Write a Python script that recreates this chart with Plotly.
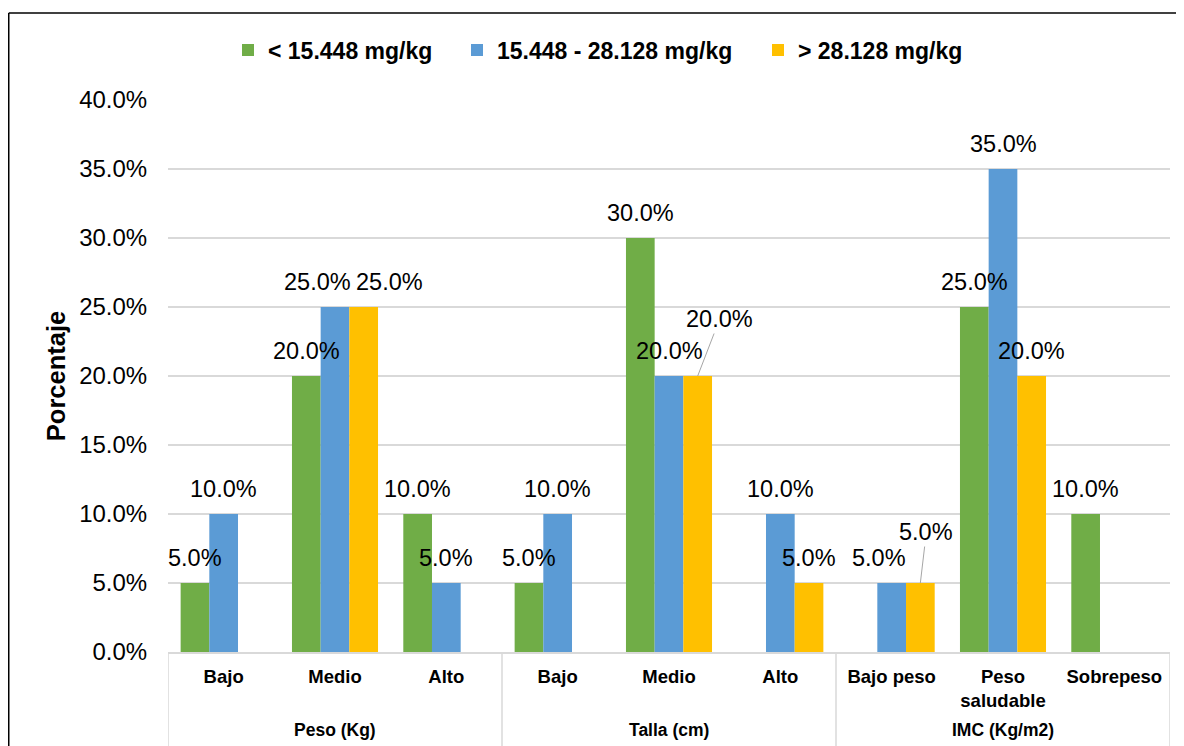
import plotly.graph_objects as go

# ---------------- data ----------------
groups = ["Peso (Kg)"] * 3 + ["Talla (cm)"] * 3 + ["IMC (Kg/m2)"] * 3
subcats = ["Bajo", "Medio", "Alto", "Bajo", "Medio", "Alto",
           "Bajo peso", "Peso<br>saludable", "Sobrepeso"]
series_names = ["< 15.448 mg/kg", "15.448 - 28.128 mg/kg", "> 28.128 mg/kg"]
low_values = [0.05, 0.20, 0.10, 0.05, 0.30, 0.00, 0.00, 0.25, 0.10]
mid_values = [0.10, 0.25, 0.05, 0.10, 0.20, 0.10, 0.05, 0.35, 0.00]
high_values = [0.00, 0.25, 0.00, 0.00, 0.20, 0.05, 0.05, 0.20, 0.00]
y_title = "Porcentaje"

# ---------------- style ----------------
colors = ["#70AD47", "#5B9BD5", "#FFC000"]
FONT = "Liberation Sans, Arial, Helvetica, sans-serif"
GRID = "#D9D9D9"
BARGAP = 0.227
W, H = 1176, 738
ML, MR, MT, MB = 160, 14, 92, 94
PW, PH = W - ML - MR, H - MT - MB

# label nudges (pixels) for labels that Excel moved to avoid overlaps
label_nudge = {(1, 1): dict(dx=-18), (2, 1): dict(dx=26), (1, 6): dict(dx=-13)}
label_leader = {(2, 4): dict(ax=22, ay=-57), (2, 6): dict(ax=6, ay=-51)}
legend_left_px = [220, 449, 750]   # left edge of each legend entry (figure px)

cat_keys = [f"{g} | {s}" for g, s in zip(groups, subcats)]

fig = go.Figure()
all_series = [low_values, mid_values, high_values]
for idx, (name, vals, col) in enumerate(zip(series_names, all_series, colors)):
    fig.add_trace(go.Bar(
        x=cat_keys, y=vals, name=name,
        marker=dict(color=col, line=dict(width=0)),
        hoverinfo="skip",
        legend="legend" if idx == 0 else f"legend{idx + 1}",
    ))

# data labels
w = (1 - BARGAP) / 3
for i, vals in enumerate(all_series):
    for k, v in enumerate(vals):
        if v <= 0:
            continue
        xpos = k + (i - 1) * w
        txt = f"{v * 100:.1f}%"
        lab_font = dict(family=FONT, size=23.5, color="black")
        if (i, k) in label_leader:
            lead = label_leader[(i, k)]
            fig.add_annotation(
                x=xpos, y=v, text=txt, showarrow=True,
                ax=lead["ax"], ay=lead["ay"], axref="pixel", ayref="pixel",
                arrowhead=0, arrowwidth=1, arrowcolor="#A6A6A6",
                standoff=0, startstandoff=0, font=lab_font,
            )
        else:
            nd = label_nudge.get((i, k), {})
            fig.add_annotation(
                x=xpos, y=v, text=txt, showarrow=False,
                xshift=nd.get("dx", 0), yshift=25 + nd.get("dy", 0),
                xanchor="center", yanchor="middle", font=lab_font,
            )

# group labels and dividers of the two-level category axis
group_order = []
for g in groups:
    if g not in group_order:
        group_order.append(g)
start = 0
boundaries = [-0.5]
for g in group_order:
    n = groups.count(g)
    mid = start + (n - 1) / 2
    fig.add_annotation(
        x=mid, y=0, xref="x", yref="paper", yshift=-78,
        text=f"<b>{g}</b>", showarrow=False, xanchor="center", yanchor="middle",
        font=dict(family=FONT, size=17.5, color="black"),
    )
    start += n
    boundaries.append(start - 0.5)
for b in boundaries:
    fig.add_shape(type="line", xref="x", yref="paper", x0=b, x1=b,
                  y0=0, y1=-1.0, line=dict(color=GRID, width=1.5), layer="below")

# chart border (Excel chart area outline): left and top edges visible
bx = (0.75 - ML) / PW
by = (PH + MT - 5) / PH
fig.add_shape(type="line", xref="paper", yref="paper", x0=bx, x1=bx, y0=-0.5, y1=by,
              line=dict(color="black", width=1.5), layer="above")
fig.add_shape(type="line", xref="paper", yref="paper", x0=bx, x1=1.2, y0=by, y1=by,
              line=dict(color="black", width=1.5), layer="above")

leg_common = dict(
    orientation="h", xref="container", yref="container",
    xanchor="left", y=1 - 42 / H, yanchor="middle",
    font=dict(family=FONT, size=23, color="black", weight="bold"),
    bgcolor="rgba(0,0,0,0)",
)

fig.update_layout(
    width=W, height=H,
    margin=dict(l=ML, r=MR, t=MT, b=MB),
    paper_bgcolor="white", plot_bgcolor="white",
    barmode="group", bargap=BARGAP, bargroupgap=0,
    font=dict(family=FONT, color="black"),
    showlegend=True,
    legend=dict(x=legend_left_px[0] / W, **leg_common),
    legend2=dict(x=legend_left_px[1] / W, **leg_common),
    legend3=dict(x=legend_left_px[2] / W, **leg_common),
    yaxis=dict(
        range=[0, 0.4], dtick=0.05, tickformat=".1%",
        showgrid=True, gridcolor=GRID, gridwidth=1.8,
        zeroline=False, showline=False,
        ticks="outside", ticklen=15, tickcolor="rgba(0,0,0,0)",
        tickfont=dict(family=FONT, size=24, color="black"),
        title=dict(text=y_title, standoff=6,
                   font=dict(family=FONT, size=25.5, color="black", weight="bold")),
    ),
    xaxis=dict(
        type="category", categoryorder="array", categoryarray=cat_keys,
        tickmode="array", tickvals=cat_keys, ticktext=subcats,
        showline=True, linecolor=GRID, linewidth=1.8,
        ticks="outside", ticklen=7, tickcolor="rgba(0,0,0,0)", showgrid=False,
        tickfont=dict(family=FONT, size=18.5, color="black", weight="bold"),
        range=[-0.5, len(cat_keys) - 0.5],
    ),
)

fig.write_html("out.html")
